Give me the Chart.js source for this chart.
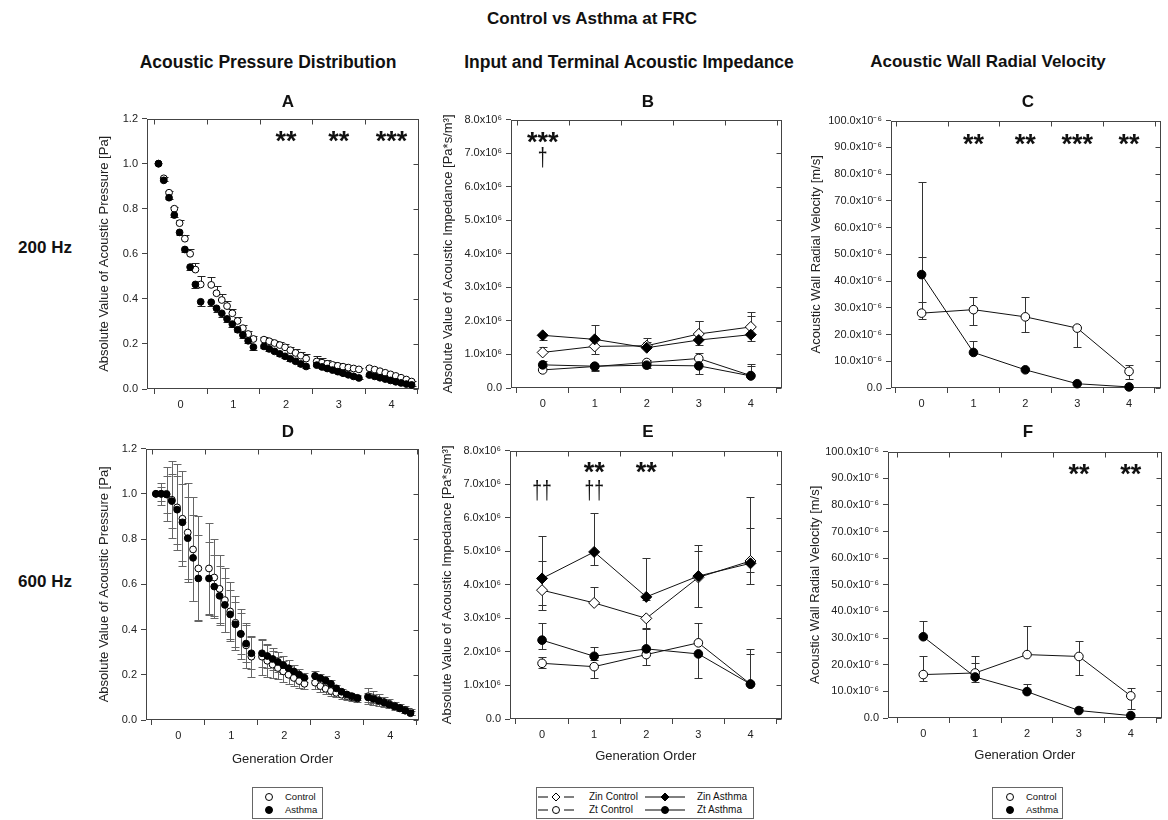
<!DOCTYPE html>
<html>
<head>
<meta charset="utf-8">
<script src="https://cdn.jsdelivr.net/npm/chart.js@4.4.1/dist/chart.umd.min.js"></script>
<style>
  body { margin: 0; width: 1168px; height: 820px; position: relative; overflow: hidden; background: #fff;
         font-family: "Liberation Sans", Arial, Helvetica, sans-serif; color: #111; }
  canvas { position: absolute; }
  .t { position: absolute; transform: translate(-50%, -50%); white-space: nowrap; font-weight: bold; z-index: 2; }
  .head { font-size: 17px; }
  .col { font-size: 17.5px; }
  .letter { font-size: 17px; }
  .legend { position: absolute; border: 1px solid #666; background: #fff; box-sizing: border-box; }
  .legend span { position: absolute; white-space: nowrap; line-height: 12px; }
  .legend svg { position: absolute; }
</style>
</head>
<body>

<div class="t head" style="left:592px;top:19px">Control vs Asthma at FRC</div>
<div class="t col" style="left:268px;top:62px">Acoustic Pressure Distribution</div>
<div class="t col" style="left:629px;top:62px">Input and Terminal Acoustic Impedance</div>
<div class="t head" style="left:988px;top:62px">Acoustic Wall Radial Velocity</div>
<div class="t head" style="left:45px;top:248px">200 Hz</div>
<div class="t head" style="left:45px;top:582px">600 Hz</div>

<div class="t letter" style="left:288px;top:102px">A</div>
<div class="t letter" style="left:648px;top:102px">B</div>
<div class="t letter" style="left:1028px;top:102px">C</div>
<div class="t letter" style="left:288px;top:432px">D</div>
<div class="t letter" style="left:648px;top:432px">E</div>
<div class="t letter" style="left:1028px;top:432px">F</div>

<canvas id="chartA"></canvas>
<canvas id="chartB"></canvas>
<canvas id="chartC"></canvas>
<canvas id="chartD"></canvas>
<canvas id="chartE"></canvas>
<canvas id="chartF"></canvas>

<!-- legends -->
<div class="legend" style="left:252px;top:787px;width:71px;height:32px;font-size:9.5px">
  <svg style="left:11px;top:4px" width="10" height="10"><circle cx="5" cy="5" r="3.5" fill="#fff" stroke="#000"/></svg>
  <span style="left:32px;top:3px">Control</span>
  <svg style="left:11px;top:17px" width="10" height="10"><circle cx="5" cy="5" r="3.5" fill="#000" stroke="#000"/></svg>
  <span style="left:32px;top:16px">Asthma</span>
</div>

<div class="legend" style="left:536px;top:787px;width:218px;height:32px;font-size:10px">
  <svg style="left:1px;top:4px" width="36" height="10">
    <line x1="0" y1="5" x2="10" y2="5" stroke="#000"/><line x1="26" y1="5" x2="36" y2="5" stroke="#000"/>
    <polygon points="18,1 22,5 18,9 14,5" fill="#fff" stroke="#000"/>
  </svg>
  <span style="left:52px;top:3px">Zin Control</span>
  <svg style="left:108px;top:4px" width="40" height="10">
    <line x1="0" y1="5" x2="40" y2="5" stroke="#000"/>
    <polygon points="20,1 24,5 20,9 16,5" fill="#000" stroke="#000"/>
  </svg>
  <span style="left:160px;top:3px">Zin Asthma</span>
  <svg style="left:1px;top:17px" width="36" height="10">
    <line x1="0" y1="5" x2="10" y2="5" stroke="#000"/><line x1="26" y1="5" x2="36" y2="5" stroke="#000"/>
    <circle cx="18" cy="5" r="3.5" fill="#fff" stroke="#000"/>
  </svg>
  <span style="left:52px;top:16px">Zt Control</span>
  <svg style="left:108px;top:17px" width="40" height="10">
    <line x1="0" y1="5" x2="40" y2="5" stroke="#000"/>
    <circle cx="20" cy="5" r="3.5" fill="#000" stroke="#000"/>
  </svg>
  <span style="left:160px;top:16px">Zt Asthma</span>
</div>

<div class="legend" style="left:992px;top:787px;width:71px;height:32px;font-size:9.5px">
  <svg style="left:12px;top:4px" width="10" height="10"><circle cx="5" cy="5" r="3.5" fill="#fff" stroke="#000"/></svg>
  <span style="left:33px;top:3px">Control</span>
  <svg style="left:12px;top:17px" width="10" height="10"><circle cx="5" cy="5" r="3.5" fill="#000" stroke="#000"/></svg>
  <span style="left:33px;top:16px">Asthma</span>
</div>

<script>
// ---- categories / ticks ----
const genLabels = ['0', '1', '2', '3', '4'];
const genTickValues = [-0.5, 0, 0.5, 1, 1.5, 2, 2.5, 3, 3.5, 4, 4.5];
const pressureTickValues = [0, 0.2, 0.4, 0.6, 0.8, 1.0, 1.2];
const pressureTickLabels = ['0.0', '0.2', '0.4', '0.6', '0.8', '1.0', '1.2'];
const impedanceTickValues = [0, 1, 2, 3, 4, 5, 6, 7, 8];   // x10^6 Pa*s/m^3
const impedanceTickLabels = ['0.0', '1.0x10⁶', '2.0x10⁶', '3.0x10⁶', '4.0x10⁶', '5.0x10⁶', '6.0x10⁶', '7.0x10⁶', '8.0x10⁶'];
const velocityTickValues = [0, 10, 20, 30, 40, 50, 60, 70, 80, 90, 100];   // x10^-6 m/s
const velocityTickLabels = ['0.0', '10.0x10⁻⁶', '20.0x10⁻⁶', '30.0x10⁻⁶', '40.0x10⁻⁶', '50.0x10⁻⁶',
  '60.0x10⁻⁶', '70.0x10⁻⁶', '80.0x10⁻⁶', '90.0x10⁻⁶', '100.0x10⁻⁶'];

// relative location of the 9 samples along each generation
const pathFraction = [0.08, 0.18, 0.28, 0.38, 0.48, 0.58, 0.68, 0.78, 0.88];

// ---- A: pressure distribution, 200 Hz ----
const a_control = [
  1.000, 0.935, 0.871, 0.800, 0.736, 0.667, 0.600, 0.530, 0.464,
  0.462, 0.425, 0.395, 0.368, 0.336, 0.302, 0.270, 0.244, 0.222,
  0.219, 0.212, 0.204, 0.195, 0.185, 0.172, 0.160, 0.148, 0.135,
  0.122, 0.117, 0.112, 0.107, 0.103, 0.099, 0.095, 0.091, 0.087,
  0.092, 0.086, 0.079, 0.072, 0.065, 0.058, 0.050, 0.042, 0.033];
const a_controlErr = [
  0, 0.004, 0.006, 0.008, 0.012, 0.016, 0.022, 0.030, 0.036,
  0.036, 0.030, 0.026, 0.022, 0.020, 0.018, 0.016, 0.014, 0.012,
  0.012, 0.011, 0.011, 0.012, 0.013, 0.015, 0.016, 0.018, 0.020,
  0.025, 0.022, 0.018, 0.015, 0.012, 0.010, 0.008, 0.007, 0.006,
  0.006, 0.006, 0.005, 0.005, 0.005, 0.004, 0.004, 0.004, 0.004];
const a_asthma = [
  1.000, 0.926, 0.849, 0.772, 0.695, 0.619, 0.541, 0.464, 0.387,
  0.385, 0.358, 0.336, 0.311, 0.288, 0.263, 0.240, 0.214, 0.186,
  0.189, 0.178, 0.167, 0.156, 0.145, 0.134, 0.123, 0.111, 0.100,
  0.106, 0.098, 0.091, 0.084, 0.077, 0.070, 0.063, 0.056, 0.049,
  0.062, 0.056, 0.050, 0.044, 0.038, 0.032, 0.027, 0.022, 0.018];
const a_asthmaErr = [
  0, 0.004, 0.006, 0.008, 0.010, 0.012, 0.014, 0.016, 0.018,
  0.018, 0.016, 0.015, 0.014, 0.013, 0.012, 0.012, 0.012, 0.012,
  0.008, 0.008, 0.008, 0.008, 0.008, 0.008, 0.008, 0.008, 0.008,
  0.006, 0.006, 0.006, 0.006, 0.006, 0.006, 0.006, 0.006, 0.006,
  0.004, 0.004, 0.004, 0.004, 0.004, 0.004, 0.004, 0.004, 0.004];
const a_signif = ['', '', '**', '**', '***'];

// ---- D: pressure distribution, 600 Hz ----
const d_control = [
  1.000, 1.000, 1.000, 0.974, 0.940, 0.890, 0.829, 0.754, 0.670,
  0.670, 0.630, 0.580, 0.530, 0.480, 0.430, 0.380, 0.330, 0.280,
  0.280, 0.262, 0.245, 0.230, 0.215, 0.200, 0.186, 0.172, 0.160,
  0.165, 0.150, 0.138, 0.128, 0.120, 0.112, 0.106, 0.100, 0.095,
  0.105, 0.097, 0.088, 0.080, 0.072, 0.063, 0.054, 0.045, 0.036];
const d_controlErr = [
  0, 0.05, 0.12, 0.17, 0.19, 0.21, 0.22, 0.23, 0.23,
  0.20, 0.17, 0.15, 0.14, 0.13, 0.12, 0.11, 0.10, 0.09,
  0.08, 0.07, 0.06, 0.05, 0.045, 0.04, 0.035, 0.03, 0.025,
  0.03, 0.028, 0.025, 0.022, 0.02, 0.018, 0.016, 0.015, 0.015,
  0.035, 0.03, 0.025, 0.022, 0.02, 0.018, 0.016, 0.015, 0.014];
const d_asthma = [
  1.000, 1.000, 0.997, 0.968, 0.930, 0.874, 0.804, 0.717, 0.626,
  0.626, 0.590, 0.549, 0.509, 0.467, 0.423, 0.381, 0.338, 0.295,
  0.295, 0.283, 0.270, 0.257, 0.243, 0.229, 0.215, 0.201, 0.187,
  0.195, 0.185, 0.175, 0.160, 0.140, 0.125, 0.113, 0.105, 0.098,
  0.100, 0.093, 0.085, 0.077, 0.068, 0.060, 0.051, 0.041, 0.030];
const d_asthmaErr = [
  0, 0.03, 0.08, 0.12, 0.15, 0.17, 0.18, 0.19, 0.19,
  0.16, 0.14, 0.13, 0.12, 0.11, 0.10, 0.09, 0.08, 0.07,
  0.06, 0.055, 0.05, 0.045, 0.04, 0.035, 0.03, 0.025, 0.02,
  0.02, 0.02, 0.018, 0.016, 0.015, 0.013, 0.012, 0.011, 0.01,
  0.02, 0.018, 0.016, 0.014, 0.012, 0.011, 0.01, 0.01, 0.01];

// ---- B: impedance, 200 Hz (x10^6) ----
const b_zinControl = [1.06, 1.24, 1.26, 1.61, 1.82];
const b_zinControlUp = [0.15, 0, 0.10, 0.40, 0.44];
const b_zinControlDown = [0, 0.22, 0, 0, 0];
const b_zinAsthma = [1.57, 1.45, 1.20, 1.43, 1.59];
const b_zinAsthmaUp = [0, 0.42, 0.30, 0.57, 0.55];
const b_zinAsthmaDown = [0.14, 0, 0, 0.15, 0.20];
const b_ztControl = [0.54, 0.64, 0.76, 0.88, 0.37];
const b_ztControlUp = [0.12, 0, 0.06, 0.15, 0.30];
const b_ztControlDown = [0, 0.12, 0, 0, 0];
const b_ztAsthma = [0.69, 0.65, 0.68, 0.66, 0.36];
const b_ztAsthmaUp = [0.10, 0, 0, 0, 0.35];
const b_ztAsthmaDown = [0, 0.10, 0.08, 0.23, 0];
const b_signif = ['***', '', '', '', ''];
const b_dagger = ['†', '', '', '', ''];

// ---- E: impedance, 600 Hz (x10^6) ----
const e_zinControl = [3.84, 3.46, 3.00, 4.22, 4.71];
const e_zinControlUp = [0.87, 0.47, 0, 0.78, 0.98];
const e_zinControlDown = [0.60, 0, 0.30, 0, 0.33];
const e_zinAsthma = [4.19, 4.98, 3.64, 4.26, 4.64];
const e_zinAsthmaUp = [1.25, 1.17, 1.16, 0.94, 1.98];
const e_zinAsthmaDown = [0.80, 0.38, 0.10, 0.93, 0.62];
const e_ztControl = [1.66, 1.56, 1.92, 2.27, 1.04];
const e_ztControlUp = [0.19, 0, 0, 0.60, 0.89];
const e_ztControlDown = [0.14, 0.33, 0.32, 0, 0];
const e_ztAsthma = [2.35, 1.87, 2.09, 1.94, 1.04];
const e_ztAsthmaUp = [0.52, 0.29, 0.60, 0, 1.04];
const e_ztAsthmaDown = [0.25, 0.10, 0, 0.72, 0];
const e_signif = ['', '**', '**', '', ''];
const e_dagger = ['††', '††', '', '', ''];

// ---- C: wall velocity, 200 Hz (x10^-6) ----
const c_control = [28.0, 29.3, 26.6, 22.4, 6.2];
const c_controlUp = [21.0, 4.6, 7.6, 0, 2.5];
const c_controlDown = [2.2, 5.9, 5.5, 6.9, 2.9];
const c_asthma = [42.4, 13.3, 6.8, 1.6, 0.4];
const c_asthmaUp = [34.6, 4.3, 0, 0, 0];
const c_asthmaDown = [10.4, 0, 0, 0, 0];
const c_signif = ['', '**', '**', '***', '**'];

// ---- F: wall velocity, 600 Hz (x10^-6) ----
const f_control = [16.3, 16.9, 23.8, 23.1, 8.3];
const f_controlUp = [7.1, 6.5, 10.8, 5.9, 2.8];
const f_controlDown = [2.4, 0, 0, 7.1, 5.0];
const f_asthma = [30.5, 15.4, 9.9, 2.8, 0.9];
const f_asthmaUp = [5.8, 5.1, 2.7, 1.4, 0];
const f_asthmaDown = [0, 1.7, 0, 0, 0];
const f_signif = ['', '', '', '**', '**'];

// ---------------------------------------------------------------
const FONT = '"Liberation Sans", Arial, Helvetica, sans-serif';
Chart.defaults.font.family = FONT;
Chart.defaults.color = '#222';

function alongPath(values) {
  return values.map((v, i) => ({ x: Math.floor(i / 9) - 0.5 + pathFraction[i % 9], y: v }));
}
function atGens(values) {
  return values.map((v, i) => ({ x: i, y: v }));
}

// frame around the plot + mirrored ticks on top / right
const framePlugin = {
  id: 'frame',
  beforeDatasetsDraw(chart) {
    const { ctx, chartArea: a, scales: { x, y } } = chart;
    const L = Math.round(a.left) + 0.5, R = Math.round(a.right) - 0.5;
    const T = Math.round(a.top) + 0.5, B = Math.round(a.bottom) - 0.5;
    ctx.save();
    ctx.strokeStyle = '#444';
    ctx.lineWidth = 1;
    ctx.strokeRect(L, T, R - L, B - T);
    ctx.beginPath();
    x.ticks.forEach(t => {
      if (Number.isInteger(t.value)) return;
      const px = Math.round(x.getPixelForValue(t.value)) + 0.5;
      ctx.moveTo(px, T); ctx.lineTo(px, T + 5);
    });
    y.ticks.forEach(t => {
      const py = Math.round(y.getPixelForValue(t.value)) + 0.5;
      ctx.moveTo(R, py); ctx.lineTo(R - 5, py);
    });
    ctx.stroke();
    ctx.restore();
  }
};

// error bars (errUp / errDown arrays on each dataset)
const errorBarPlugin = {
  id: 'errorBars',
  beforeDatasetsDraw(chart) {
    const { ctx, scales: { x, y } } = chart;
    chart.data.datasets.forEach(ds => {
      if (!ds.errUp && !ds.errDown) return;
      ctx.save();
      ctx.strokeStyle = ds.errColor || '#333';
      ctx.lineWidth = 1;
      ctx.beginPath();
      ds.data.forEach((p, j) => {
        const px = Math.round(x.getPixelForValue(p.x)) + 0.5;
        const py = y.getPixelForValue(p.y);
        [[ds.errUp, 1], [ds.errDown, -1]].forEach(([arr, sign]) => {
          const e = arr ? arr[j] : 0;
          if (!e) return;
          const ey = Math.round(y.getPixelForValue(p.y + sign * e)) + 0.5;
          ctx.moveTo(px, py); ctx.lineTo(px, ey);
          ctx.moveTo(px - 4, ey); ctx.lineTo(px + 4, ey);
        });
      });
      ctx.stroke();
      ctx.restore();
    });
  }
};

// significance stars / daggers above each generation, glyphs centred on the level
const marksPlugin = {
  id: 'marks',
  afterDatasetsDraw(chart, args, opts) {
    if (!opts.rows) return;
    const { ctx, scales: { x, y } } = chart;
    opts.rows.forEach(row => {
      ctx.save();
      ctx.font = row.font;
      ctx.fillStyle = '#111';
      ctx.textAlign = 'center';
      ctx.textBaseline = 'alphabetic';
      row.labels.forEach((txt, g) => {
        if (!txt) return;
        const m = ctx.measureText(txt);
        const shift = (m.actualBoundingBoxAscent - m.actualBoundingBoxDescent) / 2;
        const cx = x.getPixelForValue(g), cy = y.getPixelForValue(row.level) + shift;
        // squeeze wide glyph runs horizontally so their width matches the figure
        ctx.save();
        ctx.translate(cx, cy);
        ctx.scale(row.squeeze || 1, 1);
        ctx.fillText(txt, 0, 0);
        ctx.restore();
      });
      ctx.restore();
    });
  }
};

function starRow(labels, level) {
  return { labels: labels, level: level, font: 'bold 27px ' + FONT };
}
function daggerRow(labels, level) {
  return { labels: labels, level: level, font: '25px ' + FONT, squeeze: 0.7 };
}

function panel(id, box, xr, yTicks, yLabels, yTitle, showXTitle, datasets, rows) {
  const padTop = 6, padRight = 5;
  const cv = document.getElementById(id);
  const left = box.l - box.yw, top = box.t - padTop;
  cv.width = box.r + padRight - left;
  cv.height = box.b + box.xh - top;
  cv.style.left = left + 'px';
  cv.style.top = top + 'px';
  return new Chart(cv, {
    type: 'line',
    data: { datasets: datasets },
    plugins: [framePlugin, errorBarPlugin, marksPlugin],
    options: {
      responsive: false,
      animation: false,
      devicePixelRatio: 1,
      layout: { padding: { top: padTop, right: padRight, left: 0, bottom: 0 } },
      plugins: { legend: { display: false }, tooltip: { enabled: false }, marks: { rows: rows } },
      scales: {
        x: {
          type: 'linear', min: xr[0], max: xr[1],
          afterBuildTicks: s => { s.ticks = genTickValues.map(v => ({ value: v })); },
          afterFit: s => { s.height = box.xh; },
          ticks: { autoSkip: false, maxRotation: 0, padding: 4, font: { size: 11 }, color: '#222',
                   callback: v => Number.isInteger(v) ? genLabels[v] : '' },
          grid: { drawOnChartArea: false, drawTicks: true, tickLength: 5,
                  color: c => (c.tick && Number.isInteger(c.tick.value)) ? 'rgba(0,0,0,0)' : '#444' },
          border: { display: false },
          title: { display: showXTitle, text: 'Generation Order', font: { size: 13 }, padding: 0, color: '#222' }
        },
        y: {
          type: 'linear', min: yTicks[0], max: yTicks[yTicks.length - 1],
          afterBuildTicks: s => { s.ticks = yTicks.map(v => ({ value: v })); },
          afterFit: s => { s.width = box.yw; },
          ticks: { autoSkip: false, padding: 4, font: { size: 11 }, color: '#222',
                   callback: (v, i) => yLabels[i] },
          grid: { drawOnChartArea: false, drawTicks: true, tickLength: 5, color: '#444' },
          border: { display: false },
          title: { display: true, text: yTitle, font: { size: 13 }, padding: 0, color: '#222' }
        }
      }
    }
  });
}

function scatterSet(label, pts, filled, errUp, errDown, errColor) {
  return {
    label: label, data: pts, showLine: false, clip: false,
    pointStyle: 'circle', pointRadius: 3.4, pointBorderWidth: 1,
    pointBackgroundColor: filled ? '#000' : '#fff', pointBorderColor: '#000',
    errUp: errUp, errDown: errDown, errColor: errColor
  };
}
function lineSet(label, pts, filled, style, errUp, errDown) {
  return {
    label: label, data: pts, showLine: true, clip: false, tension: 0,
    borderColor: '#111', borderWidth: 1,
    pointStyle: style, pointRadius: style === 'rectRot' ? 5.5 : 4.3, pointBorderWidth: 1,
    pointBackgroundColor: filled ? '#000' : '#fff', pointBorderColor: '#000',
    errUp: errUp, errDown: errDown, errColor: '#333'
  };
}

const pressTitle = 'Absolute Value of Acoustic Pressure [Pa]';
const impTitle = 'Absolute Value of Acoustic Impedance [Pa*s/m³]';
const velTitle = 'Acoustic Wall Radial Velocity [m/s]';

panel('chartA', { l: 147, t: 114, r: 419, b: 389, yw: 50, xh: 24 }, [-0.638, 4.52],
  pressureTickValues, pressureTickLabels, pressTitle, false, [
    scatterSet('Asthma', alongPath(a_asthma), true, null, a_asthmaErr, '#222'),
    scatterSet('Control', alongPath(a_control), false, a_controlErr, null, '#222')
  ], [starRow(a_signif, 1.12)]);

panel('chartB', { l: 511, t: 115, r: 783, b: 388, yw: 70, xh: 24 }, [-0.609, 4.59],
  impedanceTickValues, impedanceTickLabels, impTitle, false, [
    lineSet('Zt Asthma', atGens(b_ztAsthma), true, 'circle', b_ztAsthmaUp, b_ztAsthmaDown),
    lineSet('Zin Asthma', atGens(b_zinAsthma), true, 'rectRot', b_zinAsthmaUp, b_zinAsthmaDown),
    lineSet('Zt Control', atGens(b_ztControl), false, 'circle', b_ztControlUp, b_ztControlDown),
    lineSet('Zin Control', atGens(b_zinControl), false, 'rectRot', b_zinControlUp, b_zinControlDown)
  ], [starRow(b_signif, 7.46), daggerRow(b_dagger, 6.88)]);

panel('chartC', { l: 891, t: 116, r: 1161, b: 388, yw: 82, xh: 24 }, [-0.59, 4.61],
  velocityTickValues, velocityTickLabels, velTitle, false, [
    lineSet('Asthma', atGens(c_asthma), true, 'circle', c_asthmaUp, c_asthmaDown),
    lineSet('Control', atGens(c_control), false, 'circle', c_controlUp, c_controlDown)
  ], [starRow(c_signif, 93)]);

panel('chartD', { l: 146, t: 444, r: 419, b: 720, yw: 49, xh: 47 }, [-0.607, 4.54],
  pressureTickValues, pressureTickLabels, pressTitle, true, [
    scatterSet('Asthma', alongPath(d_asthma), true, d_asthmaErr, d_asthmaErr, '#666'),
    scatterSet('Control', alongPath(d_control), false, d_controlErr, d_controlErr, '#666')
  ], []);

panel('chartE', { l: 510, t: 446, r: 783, b: 719, yw: 70, xh: 45 }, [-0.615, 4.595],
  impedanceTickValues, impedanceTickLabels, impTitle, true, [
    lineSet('Zt Asthma', atGens(e_ztAsthma), true, 'circle', e_ztAsthmaUp, e_ztAsthmaDown),
    lineSet('Zin Asthma', atGens(e_zinAsthma), true, 'rectRot', e_zinAsthmaUp, e_zinAsthmaDown),
    lineSet('Zt Control', atGens(e_ztControl), false, 'circle', e_ztControlUp, e_ztControlDown),
    lineSet('Zin Control', atGens(e_zinControl), false, 'rectRot', e_zinControlUp, e_zinControlDown)
  ], [starRow(e_signif, 7.5), daggerRow(e_dagger, 6.8)]);

panel('chartF', { l: 888, t: 447, r: 1162, b: 718, yw: 80, xh: 45 }, [-0.68, 4.596],
  velocityTickValues, velocityTickLabels, velTitle, true, [
    lineSet('Asthma', atGens(f_asthma), true, 'circle', f_asthmaUp, f_asthmaDown),
    lineSet('Control', atGens(f_control), false, 'circle', f_controlUp, f_controlDown)
  ], [starRow(f_signif, 93.4)]);
</script>
</body>
</html>
